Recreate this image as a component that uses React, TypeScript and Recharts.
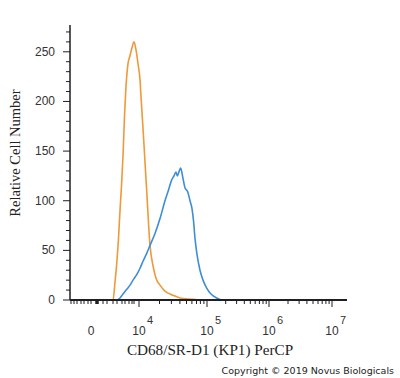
import React from 'react';
import { LineChart, Line, XAxis, YAxis } from 'recharts';

// x values are display channels of the biexponential PerCP axis (0..277)
const orangeX = [0, 43, 45, 47, 48.5, 50, 51.5, 53, 54.5, 56, 58, 60, 62, 64, 66, 68, 70, 71, 73.3, 76.7, 80, 83.3, 86, 90, 95, 100, 105, 110, 120, 130, 277];
const orangeY = [0, 0, 18, 40, 62, 90, 115, 145, 185, 215, 238, 246, 254, 260, 252, 238, 222, 205, 168, 110, 55, 33, 22, 15, 9, 6, 4, 2, 1, 0, 0];

const blueX = [0, 47, 50, 53, 57, 60, 63, 67, 70, 73, 76.7, 80, 85, 90, 95, 98.3, 101.7, 104, 106, 107.3, 109.3, 110.7, 112.7, 115, 117.7, 120, 122, 123.5, 125, 127, 130, 133, 136.7, 141, 146.7, 152, 277];
const blueY = [0, 0, 2, 6, 11, 15, 20, 26, 32, 39, 47, 55, 67, 82, 100, 110, 121, 125, 129, 125, 130, 133, 124, 113, 109, 100, 92, 80, 62, 46, 30, 20, 12, 6, 2, 0, 0];

// axis ticks
const xMajorTicks = [21, 69, 137, 199, 262];
const xMajorBase = ['0', '10', '10', '10', '10'];
const xMajorExp = ['', '4', '5', '6', '7'];
const xLinearMinorTicks = [1, 4, 7, 11, 14, 18, 27, 33, 37, 43, 47, 52, 55, 59, 62, 64];
const xThickTick = 27;
const yTicks = [0, 10, 20, 30, 40, 50, 60, 70, 80, 90, 100, 110, 120, 130, 140, 150, 160, 170, 180, 190, 200, 210, 220, 230, 240, 250, 260, 270];
const yLabelStep = 50;

const orangeData = orangeX.map((x, i) => ({ x, y: orangeY[i] }));
const blueData = blueX.map((x, i) => ({ x, y: blueY[i] }));

const logMinor: number[] = [];
for (let d = 1; d < xMajorTicks.length - 1; d++) {
  const a = xMajorTicks[d];
  const b = xMajorTicks[d + 1];
  for (let k = 2; k <= 9; k++) logMinor.push(Math.round((a + (b - a) * Math.log10(k)) * 10) / 10);
}
const allXTicks = [...xLinearMinorTicks, ...xMajorTicks, ...logMinor].sort((p, q) => p - q);

const AXIS = '#1e1e24';
const TICK_FONT = 'Liberation Sans, Arial, sans-serif';

const XTick = (props: any) => {
  const { x, y, payload } = props;
  const v = payload.value;
  const idx = xMajorTicks.indexOf(v);
  const isMajor = idx > 0;
  const len = isMajor ? 7 : 4;
  return (
    <g>
      <line x1={x} x2={x} y1={y} y2={y + len} stroke={AXIS} strokeWidth={v === xThickTick ? 3.5 : 1} />
      {idx >= 0 && (
        <text x={x} y={y + 35} fontSize={12} textAnchor="middle" fontFamily={TICK_FONT} fill="#333">
          {xMajorBase[idx]}
        </text>
      )}
      {idx > 0 && (
        <text x={x + 8} y={y + 24} fontSize={11} textAnchor="start" fontFamily={TICK_FONT} fill="#333">
          {xMajorExp[idx]}
        </text>
      )}
    </g>
  );
};

const YTick = (props: any) => {
  const { x, y, payload } = props;
  const v = payload.value;
  const isMajor = v % yLabelStep === 0;
  return (
    <g>
      <line x1={x - (isMajor ? 7 : 4)} x2={x} y1={y} y2={y} stroke={AXIS} strokeWidth={1} />
      {isMajor && (
        <text x={x - 15} y={y + 4} fontSize={12} textAnchor="end" fontFamily={TICK_FONT} fill="#333">
          {v}
        </text>
      )}
    </g>
  );
};

export default function App() {
  return (
    <div style={{ position: 'absolute', left: 0, top: 0, width: 400, height: 378, background: '#fff' }}>
      <LineChart width={400} height={378} margin={{ top: 25, right: 53, bottom: 0, left: 0 }}>
        <XAxis
          dataKey="x"
          type="number"
          domain={[0, 277]}
          allowDataOverflow
          ticks={allXTicks}
          interval={0}
          tick={<XTick />}
          tickLine={false}
          tickSize={0}
          tickMargin={0}
          height={78}
          axisLine={{ stroke: AXIS, strokeWidth: 2 }}
        />
        <YAxis
          type="number"
          domain={[0, 277]}
          allowDataOverflow
          ticks={yTicks}
          interval={0}
          tick={<YTick />}
          tickLine={false}
          tickSize={0}
          tickMargin={0}
          width={70}
          axisLine={{ stroke: AXIS, strokeWidth: 1.5 }}
        />
        <Line data={orangeData} dataKey="y" type="monotone" stroke="#EE9A3A" strokeWidth={1.6} dot={false} isAnimationActive={false} />
        <Line data={blueData} dataKey="y" type="monotone" stroke="#3D8ED6" strokeWidth={1.6} dot={false} isAnimationActive={false} />
      </LineChart>
      <svg width={400} height={378} style={{ position: 'absolute', left: 0, top: 0, pointerEvents: 'none' }}>
        <text
          x={0}
          y={0}
          transform="translate(20,153) rotate(-90)"
          textAnchor="middle"
          fontFamily="Liberation Serif, Times New Roman, serif"
          fontSize={14.5}
          fill="#222"
        >
          Relative Cell Number
        </text>
        <text x={210} y={355} textAnchor="middle" fontFamily="Liberation Serif, Times New Roman, serif" fontSize={15.2} fill="#222">
          CD68/SR-D1 (KP1) PerCP
        </text>
        <text x={394} y={374} textAnchor="end" fontFamily="DejaVu Sans, Verdana, sans-serif" fontSize={9.5} fill="#222">
          Copyright © 2019 Novus Biologicals
        </text>
      </svg>
    </div>
  );
}
